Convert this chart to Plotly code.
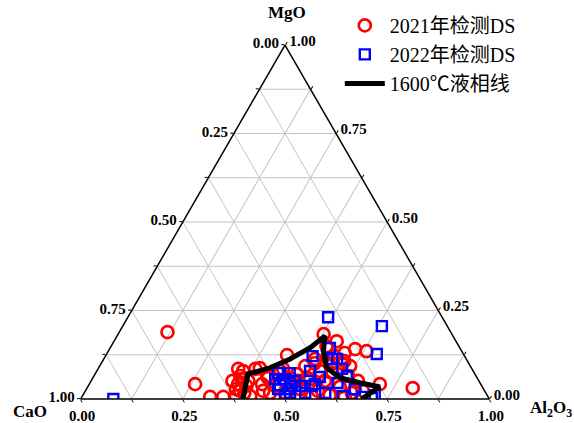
import plotly.graph_objects as go

# 2021 检测 DS (red circles): fractions MgO, Al2O3 (CaO = remainder)
mgo_2021 = [0.189, 0.042, 0.006, 0.006, 0.042, 0.023, 0.028, 0.079, 0.056, 0.085,
            0.087, 0.059, 0.124, 0.070, 0.183, 0.163, 0.141, 0.135, 0.130, 0.101,
            0.042, 0.031, 0.149, 0.121, 0.093, 0.037, 0.017, 0.028, 0.056, 0.023,
            0.051, 0.011, 0.034, 0.017, 0.051, 0.093, 0.101, 0.056, 0.017, 0.008,
            0.042, 0.008, 0.006, 0.073, 0.065, 0.079, 0.006, 0.051, 0.037, 0.079,
            0.023, 0.113, 0.085, 0.065, 0.008, 0.017, 0.051, 0.065, 0.085, 0.051,
            0.059, 0.023, 0.113, 0.101, 0.107, 0.045, 0.028]
al_2021 = [0.118, 0.259, 0.314, 0.346, 0.364, 0.379, 0.366, 0.358, 0.367, 0.385,
           0.395, 0.429, 0.443, 0.494, 0.503, 0.545, 0.601, 0.632, 0.581, 0.590,
           0.711, 0.797, 0.527, 0.561, 0.613, 0.457, 0.492, 0.523, 0.533, 0.569,
           0.572, 0.604, 0.617, 0.655, 0.653, 0.503, 0.522, 0.489, 0.455, 0.411,
           0.423, 0.562, 0.643, 0.580, 0.622, 0.546, 0.529, 0.346, 0.387, 0.449,
           0.679, 0.549, 0.343, 0.358, 0.376, 0.392, 0.385, 0.424, 0.453, 0.507,
           0.524, 0.435, 0.517, 0.566, 0.592, 0.582, 0.657]
cao_2021 = [round(1 - m - a, 3) for m, a in zip(mgo_2021, al_2021)]

# 2022 检测 DS (blue squares)
mgo_2022 = [0.000, 0.231, 0.206, 0.127, 0.121, 0.113, 0.144, 0.056, 0.039, 0.028,
            0.051, 0.065, 0.003, 0.017, 0.042, 0.017, 0.045, 0.028, 0.073, 0.056,
            0.079, 0.008, 0.006, 0.062, 0.037, 0.008, 0.073, 0.056, 0.037, 0.028,
            0.113, 0.085, 0.037, 0.011, 0.017]
al_2022 = [0.080, 0.490, 0.634, 0.661, 0.507, 0.559, 0.538, 0.467, 0.468, 0.493,
           0.499, 0.619, 0.711, 0.541, 0.552, 0.590, 0.606, 0.657, 0.475, 0.448,
           0.522, 0.637, 0.685, 0.554, 0.519, 0.496, 0.446, 0.472, 0.499, 0.469,
           0.571, 0.597, 0.548, 0.714, 0.504]
cao_2022 = [round(1 - m - a, 3) for m, a in zip(mgo_2022, al_2022)]

# 1600℃ liquidus line
mgo_liq = [0.000, 0.071, 0.088, 0.113, 0.145, 0.178, 0.135, 0.088, 0.060, 0.046, 0.034, 0.000]
al_liq = [0.397, 0.374, 0.419, 0.456, 0.489, 0.509, 0.526, 0.558, 0.604, 0.660, 0.715, 0.687]
cao_liq = [round(1 - m - a, 3) for m, a in zip(mgo_liq, al_liq)]

grid_vals = [0, 0.125, 0.25, 0.375, 0.5, 0.625, 0.75, 0.875, 1.0]
grid_text_rev = ["1.00", "", "0.75", "", "0.50", "", "0.25", "", "0.00"]

serif = "Liberation Serif, Times New Roman, serif"
title_font = dict(family=serif, size=17, color="black", weight="bold")

fig = go.Figure()
fig.add_trace(go.Scatterternary(
    a=mgo_2021, b=cao_2021, c=al_2021, mode="markers", name="2021年检测DS",
    marker=dict(symbol="circle-open", size=12, color="#ff0000", line=dict(width=2.7, color="#ff0000")),
))
fig.add_trace(go.Scatterternary(
    a=mgo_2022, b=cao_2022, c=al_2022, mode="markers", name="2022年检测DS",
    marker=dict(symbol="square-open", size=10, color="#0000ff", line=dict(width=2.4, color="#0000ff")),
))
fig.add_trace(go.Scatterternary(
    a=mgo_liq, b=cao_liq, c=al_liq, mode="lines", name="1600℃液相线",
    line=dict(color="black", width=5),
))

axis_common = dict(
    tickmode="array", tickvals=grid_vals, ticktext=grid_text_rev,
    ticks="outside", ticklen=3, tickcolor="black",
    linecolor="black", linewidth=1.5,
    gridcolor="#c4c4c4", gridwidth=1,
    tickfont=dict(family=serif, size=15, color="black", weight="bold"),
    title=dict(text=""),
)

fig.update_layout(
    width=574, height=423,
    margin=dict(l=0, r=0, t=0, b=0),
    paper_bgcolor="white",
    showlegend=True,
    legend=dict(x=0.592, y=0.986, xanchor="left", yanchor="top",
                font=dict(family=serif + ", Noto Sans CJK SC", size=20, color="black"),
                bgcolor="rgba(0,0,0,0)", tracegroupgap=0, itemwidth=40),
    ternary=dict(
        domain=dict(x=[78.5 / 574, 491.5 / 574], y=[24 / 423, 378 / 423]),
        bgcolor="white",
        sum=1,
        aaxis=axis_common,
        baxis=axis_common,
        caxis=axis_common,
    ),
    annotations=[
        dict(text="MgO", x=287 / 574, y=1 - 12 / 423, xref="paper", yref="paper",
             showarrow=False, font=title_font, xanchor="center", yanchor="middle"),
        dict(text="CaO", x=30 / 574, y=1 - 411 / 423, xref="paper", yref="paper",
             showarrow=False, font=title_font, xanchor="center", yanchor="middle"),
        dict(text="Al<sub>2</sub>O<sub>3</sub>", x=1.0, y=1 - 409 / 423, xref="paper", yref="paper",
             showarrow=False, font=title_font, xanchor="right", yanchor="middle"),
    ],
)

fig.write_html("out.html", config={"displayModeBar": False},
               post_script="document.body.style.margin='0px';document.body.style.padding='0px';")
